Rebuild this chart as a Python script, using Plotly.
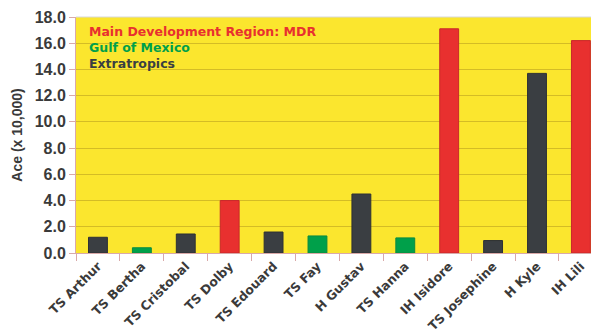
import plotly.graph_objects as go

# 2002 Atlantic storms and their accumulated cyclone energy (x 10,000)
storms = ["TS Arthur", "TS Bertha", "TS Cristobal", "TS Dolby", "TS Edouard",
          "TS Fay", "H Gustav", "TS Hanna", "IH Isidore", "TS Josephine",
          "H Kyle", "IH Lili"]
ace = [1.2, 0.4, 1.45, 4.0, 1.6, 1.3, 4.5, 1.15, 17.1, 0.95, 13.7, 16.2]
region = ["EXT", "GOM", "EXT", "MDR", "EXT", "GOM", "EXT", "GOM", "MDR",
          "EXT", "EXT", "MDR"]

region_names = {"MDR": "Main Development Region: MDR",
                "GOM": "Gulf of Mexico",
                "EXT": "Extratropics"}
region_colors = {"MDR": "#E8302F", "GOM": "#00A04A", "EXT": "#3A3E42"}
region_edges = {"MDR": "#C8282A", "GOM": "#0A8A40", "EXT": "#2E3134"}

y_ticks = [0, 2, 4, 6, 8, 10, 12, 14, 16, 18]

fig = go.Figure(go.Bar(
    x=storms,
    y=ace,
    marker=dict(color=[region_colors[r] for r in region],
                line=dict(color=[region_edges[r] for r in region], width=1)),
    width=0.43,
    showlegend=False,
))

# text legend in the upper-left corner of the plot
for i, key in enumerate(["MDR", "GOM", "EXT"]):
    fig.add_annotation(
        text="<b>" + region_names[key] + "</b>",
        xref="paper", yref="paper", x=0.022, y=0.94 - i * 0.068,
        xanchor="left", yanchor="middle", showarrow=False,
        font=dict(family="DejaVu Sans", size=12.5, color=region_colors[key]),
    )

fig.update_layout(
    width=591, height=335,
    margin=dict(l=76, r=0, t=17, b=82),
    paper_bgcolor="white",
    plot_bgcolor="#FBE62E",
    font=dict(family="Liberation Sans", color="#3a3a3a"),
    xaxis=dict(
        range=[-0.5, 11.23],
        tickvals=storms,
        ticktext=[f"<b>{s}</b>" for s in storms],
        tickangle=-45,
        tickfont=dict(family="DejaVu Sans", size=12.5, color="#3a3a3a"),
        ticks="outside", ticklen=7, tickcolor="#D9A9A9",
        tickson="boundaries",
        showline=True, linecolor="#D9A9A9", linewidth=1,
        showgrid=False,
    ),
    yaxis=dict(
        range=[0, 18],
        tickvals=y_ticks,
        ticktext=[f"<b>{v:.1f}</b>" for v in y_ticks],
        tickfont=dict(family="Liberation Sans", size=16, color="#3a3a3a"),
        ticks="outside", ticklen=6, tickcolor="#D9A9A9",
        showline=True, linecolor="#D9A9A9", linewidth=1,
        showgrid=True, gridcolor="rgba(140,110,20,0.35)", gridwidth=1,
        zeroline=False,
        title=dict(text="Ace (x 10,000)",
                   font=dict(family="Liberation Sans", size=14,
                             color="#3a3a3a", weight="bold"),
                   standoff=8),
    ),
)

# light frame line along the top of the plot area
fig.add_shape(type="line", xref="paper", yref="paper", x0=0, x1=1, y0=1, y1=1,
              line=dict(color="#D8D8D8", width=1))

fig.write_html("out.html")
